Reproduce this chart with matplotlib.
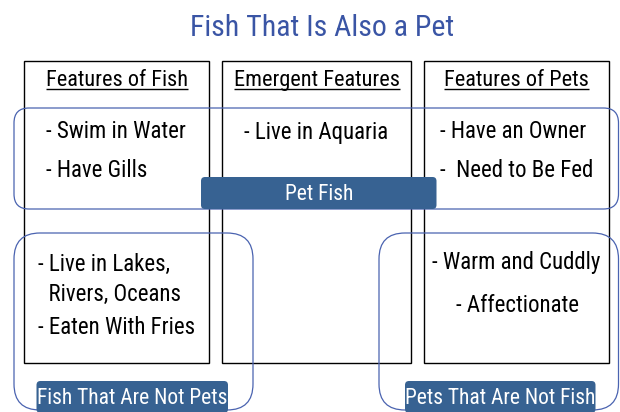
import matplotlib
matplotlib.use("Agg")
import matplotlib.pyplot as plt
from matplotlib.patches import Rectangle, FancyBboxPatch

plt.rcParams['font.family'] = ['Roboto Condensed', 'Liberation Sans', 'DejaVu Sans']

TITLE = "Fish That Is Also a Pet"
HEADERS = ["Features of Fish", "Emergent Features", "Features of Pets"]
TOP_ITEMS = [
    ["- Swim in Water", "- Have Gills"],
    ["- Live in Aquaria"],
    ["- Have an Owner", "-  Need to Be Fed"],
]
FISH_NOT_PET = ["- Live in Lakes,", "  Rivers, Oceans", "- Eaten With Fries"]
PET_NOT_FISH = ["- Warm and Cuddly", "- Affectionate"]
GROUP_LABELS = ["Pet Fish", "Fish That Are Not Pets", "Pets That Are Not Fish"]

BLUE_TITLE = "#3a55a5"
BLUE_LINE = "#4a63b0"
BLUE_FILL = "#376292"
FS = 16.5

W, H = 620, 412
fig = plt.figure(figsize=(W / 100, H / 100), dpi=100)
ax = fig.add_axes([0, 0, 1, 1])
ax.set_xlim(0, W)
ax.set_ylim(H, 0)
ax.axis('off')

ax.text(322, 28, TITLE, color=BLUE_TITLE, fontsize=21.5, ha='center', va='center')

# three columns
cols = [(24, 209), (222, 411), (424, 609)]
heads = []
for (x0, x1), head in zip(cols, HEADERS):
    ax.add_patch(Rectangle((x0, 61), x1 - x0, 302, fill=False, ec='black', lw=1.0))
    heads.append(ax.text((x0 + x1) / 2, 80, head, fontsize=16, ha='center', va='center'))

# underline headers
fig.canvas.draw()
r = fig.canvas.get_renderer()
inv = ax.transData.inverted()
for t in heads:
    bb = t.get_window_extent(r)
    (xa, _), (xb, _) = inv.transform([(bb.x0, bb.y0), (bb.x1, bb.y0)])
    ax.plot([xa, xb], [88.5, 88.5], color='black', lw=1.0, solid_capstyle='butt')

# top row items
item_x = [46, 244, 440]
for x, items in zip(item_x, TOP_ITEMS):
    for i, s in enumerate(items):
        ax.text(x, 132 + 38 * i, s, fontsize=FS, ha='left', va='center')

for s, y in zip(FISH_NOT_PET, [264, 294, 328]):
    ax.text(38, y, s, fontsize=FS, va='center')
ax.text(432, 263, PET_NOT_FISH[0], fontsize=FS, va='center')
ax.text(517, 305, PET_NOT_FISH[1], fontsize=FS, ha='center', va='center')

# blue group outlines
def rbox(x0, y0, x1, y1, rad, **kw):
    p = FancyBboxPatch((x0, y0), x1 - x0, y1 - y0,
                       boxstyle=f"round,pad=0,rounding_size={rad}", **kw)
    ax.add_patch(p)

rbox(14, 108, 618.5, 209, 15, fill=False, ec=BLUE_LINE, lw=0.9)
rbox(14, 233, 253, 410, 26, fill=False, ec=BLUE_LINE, lw=0.9)
rbox(379, 233, 618.5, 410, 26, fill=False, ec=BLUE_LINE, lw=0.9)

# filled labels
labels = [(201, 177, 436.5, 209, 194), (36.5, 381, 228, 413, 398), (405, 381, 595.5, 413, 398)]
for (x0, y0, x1, y1, ty), s in zip(labels, GROUP_LABELS):
    rbox(x0, y0, x1, y1, 4, fc=BLUE_FILL, ec='none', zorder=3)
    ax.text((x0 + x1) / 2, ty, s, color='white', fontsize=15.5,
            ha='center', va='center', zorder=4)

fig.savefig("out.png", dpi=100)
